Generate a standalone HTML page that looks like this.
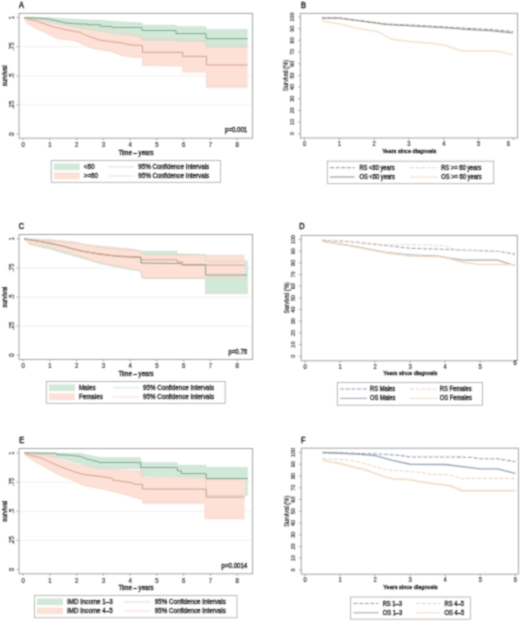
<!DOCTYPE html>
<html><head><meta charset="utf-8"><title>Survival curves</title>
<style>html,body{margin:0;padding:0;background:#fff;}body{width:520px;height:626px;position:relative;overflow:hidden;font-family:"Liberation Sans", sans-serif;}</style>
</head><body>
<svg width="520" height="626" viewBox="0 0 520 626" style="position:absolute;left:0;top:0;font-family:'Liberation Sans', sans-serif">
<style>text{stroke:#222;stroke-width:0.3px;} text.t{stroke-width:0.5px;} text.k{stroke-width:0.14px;}</style>
<defs><filter id="sb" x="0" y="0" width="520" height="626" filterUnits="userSpaceOnUse"><feConvolveMatrix order="3" kernelMatrix="1 2 1 2 6 2 1 2 1" divisor="18" edgeMode="duplicate" preserveAlpha="false"/></filter></defs>
<rect x="0" y="0" width="520" height="626" fill="#fff"/>
<g filter="url(#sb)">
<line x1="19.00" y1="104.90" x2="252.60" y2="104.90" stroke="#ececec" stroke-width="0.8"/>
<line x1="19.00" y1="75.80" x2="252.60" y2="75.80" stroke="#ececec" stroke-width="0.8"/>
<line x1="19.00" y1="46.70" x2="252.60" y2="46.70" stroke="#ececec" stroke-width="0.8"/>
<polygon points="24.00,17.60 50.00,20.00 80.00,24.70 100.00,28.00 120.00,31.00 135.00,34.50 142.50,36.00 142.50,39.00 182.70,39.00 182.70,41.20 206.50,41.20 206.50,45.50 247.60,45.50 247.60,87.20 206.50,87.20 206.50,72.00 182.70,72.00 182.70,66.00 142.50,65.50 142.50,57.50 130.00,57.00 120.00,55.00 110.00,51.20 95.00,49.00 85.00,45.50 75.00,40.80 57.00,38.50 43.00,31.60 35.00,28.00 27.00,23.50 24.00,17.60" fill="#fde1d6" />
<polygon points="24.00,17.60 50.00,17.80 75.00,19.50 100.00,20.50 130.00,22.50 142.00,23.00 142.00,25.30 176.00,25.30 176.00,26.80 206.00,26.80 206.00,29.60 247.60,29.60 247.60,47.00 206.00,47.00 206.00,41.00 176.00,41.00 176.00,40.30 142.00,40.30 142.00,37.00 135.00,35.60 115.00,33.50 100.00,31.00 90.00,29.50 75.00,27.00 60.00,24.00 40.00,20.00 24.00,17.60" fill="#d2e9da" />
<polyline points="24.00,17.60 50.00,20.00 80.00,24.70 100.00,28.00 120.00,31.00 135.00,34.50 142.50,36.00 142.50,39.00 182.70,39.00 182.70,41.20 206.50,41.20 206.50,45.50 247.60,45.50" fill="none" stroke="#f2cbbd" stroke-width="0.6" stroke-linejoin="miter" />
<polyline points="24.00,17.60 27.00,23.50 35.00,28.00 43.00,31.60 57.00,38.50 75.00,40.80 85.00,45.50 95.00,49.00 110.00,51.20 120.00,55.00 130.00,57.00 142.50,57.50 142.50,65.50 182.70,66.00 182.70,72.00 206.50,72.00 206.50,87.20 247.60,87.20" fill="none" stroke="#f2cbbd" stroke-width="0.6" stroke-linejoin="miter" />
<polyline points="24.00,17.60 50.00,17.80 75.00,19.50 100.00,20.50 130.00,22.50 142.00,23.00 142.00,25.30 176.00,25.30 176.00,26.80 206.00,26.80 206.00,29.60 247.60,29.60" fill="none" stroke="#bcd8c6" stroke-width="0.6" stroke-linejoin="miter" />
<polyline points="24.00,17.60 40.00,20.00 60.00,24.00 75.00,27.00 90.00,29.50 100.00,31.00 115.00,33.50 135.00,35.60 142.00,37.00 142.00,40.30 176.00,40.30 176.00,41.00 206.00,41.00 206.00,47.00 247.60,47.00" fill="none" stroke="#bcd8c6" stroke-width="0.6" stroke-linejoin="miter" />
<polyline points="24.00,17.60 33.00,17.90 42.00,18.40 49.00,19.10 58.00,21.00 66.00,23.00 80.00,24.00 87.70,24.00 87.70,24.70 100.40,24.70 100.40,26.40 112.00,26.40 112.00,27.50 142.00,27.50 142.00,30.50 176.00,30.50 176.00,33.60 206.00,33.60 206.00,38.70 247.60,38.70" fill="none" stroke="#739e82" stroke-width="1.0" stroke-linejoin="miter" />
<polyline points="24.00,17.60 30.00,19.50 37.30,21.20 45.00,24.00 54.60,27.00 65.00,29.50 75.00,31.60 80.00,32.20 85.00,35.00 95.00,38.50 100.00,40.30 110.00,41.40 120.00,42.60 130.00,44.90 142.50,45.50 142.50,52.30 182.70,52.30 182.70,56.40 206.50,56.40 206.50,65.00 247.60,65.00" fill="none" stroke="#d29c89" stroke-width="1.0" stroke-linejoin="miter" />
<rect x="19.00" y="13.30" width="233.60" height="124.90" fill="none" stroke="#9a9a9a" stroke-width="0.9"/>
<line x1="16.60" y1="134.00" x2="19.00" y2="134.00" stroke="#9a9a9a" stroke-width="0.8"/>
<text transform="translate(13.70 134.00) rotate(-90) scale(1 1.09)" font-size="6" text-anchor="middle" font-weight="normal" fill="#2a2a2a" class="k">0</text>
<line x1="16.60" y1="104.90" x2="19.00" y2="104.90" stroke="#9a9a9a" stroke-width="0.8"/>
<text transform="translate(13.70 104.90) rotate(-90) scale(1 1.09)" font-size="6" text-anchor="middle" font-weight="normal" fill="#2a2a2a" class="k">.25</text>
<line x1="16.60" y1="75.80" x2="19.00" y2="75.80" stroke="#9a9a9a" stroke-width="0.8"/>
<text transform="translate(13.70 75.80) rotate(-90) scale(1 1.09)" font-size="6" text-anchor="middle" font-weight="normal" fill="#2a2a2a" class="k">.5</text>
<line x1="16.60" y1="46.70" x2="19.00" y2="46.70" stroke="#9a9a9a" stroke-width="0.8"/>
<text transform="translate(13.70 46.70) rotate(-90) scale(1 1.09)" font-size="6" text-anchor="middle" font-weight="normal" fill="#2a2a2a" class="k">.75</text>
<line x1="16.60" y1="17.60" x2="19.00" y2="17.60" stroke="#9a9a9a" stroke-width="0.8"/>
<text transform="translate(13.70 17.60) rotate(-90) scale(1 1.09)" font-size="6" text-anchor="middle" font-weight="normal" fill="#2a2a2a" class="k">1</text>
<line x1="23.10" y1="138.20" x2="23.10" y2="140.40" stroke="#9a9a9a" stroke-width="0.8"/>
<text transform="translate(23.10 147.20) scale(1 1.09)" font-size="6" text-anchor="middle" font-weight="normal" fill="#2a2a2a" class="k">0</text>
<line x1="49.85" y1="138.20" x2="49.85" y2="140.40" stroke="#9a9a9a" stroke-width="0.8"/>
<text transform="translate(49.85 147.20) scale(1 1.09)" font-size="6" text-anchor="middle" font-weight="normal" fill="#2a2a2a" class="k">1</text>
<line x1="76.60" y1="138.20" x2="76.60" y2="140.40" stroke="#9a9a9a" stroke-width="0.8"/>
<text transform="translate(76.60 147.20) scale(1 1.09)" font-size="6" text-anchor="middle" font-weight="normal" fill="#2a2a2a" class="k">2</text>
<line x1="103.35" y1="138.20" x2="103.35" y2="140.40" stroke="#9a9a9a" stroke-width="0.8"/>
<text transform="translate(103.35 147.20) scale(1 1.09)" font-size="6" text-anchor="middle" font-weight="normal" fill="#2a2a2a" class="k">3</text>
<line x1="130.10" y1="138.20" x2="130.10" y2="140.40" stroke="#9a9a9a" stroke-width="0.8"/>
<text transform="translate(130.10 147.20) scale(1 1.09)" font-size="6" text-anchor="middle" font-weight="normal" fill="#2a2a2a" class="k">4</text>
<line x1="156.85" y1="138.20" x2="156.85" y2="140.40" stroke="#9a9a9a" stroke-width="0.8"/>
<text transform="translate(156.85 147.20) scale(1 1.09)" font-size="6" text-anchor="middle" font-weight="normal" fill="#2a2a2a" class="k">5</text>
<line x1="183.60" y1="138.20" x2="183.60" y2="140.40" stroke="#9a9a9a" stroke-width="0.8"/>
<text transform="translate(183.60 147.20) scale(1 1.09)" font-size="6" text-anchor="middle" font-weight="normal" fill="#2a2a2a" class="k">6</text>
<line x1="210.35" y1="138.20" x2="210.35" y2="140.40" stroke="#9a9a9a" stroke-width="0.8"/>
<text transform="translate(210.35 147.20) scale(1 1.09)" font-size="6" text-anchor="middle" font-weight="normal" fill="#2a2a2a" class="k">7</text>
<line x1="237.10" y1="138.20" x2="237.10" y2="140.40" stroke="#9a9a9a" stroke-width="0.8"/>
<text transform="translate(237.10 147.20) scale(1 1.09)" font-size="6" text-anchor="middle" font-weight="normal" fill="#2a2a2a" class="k">8</text>
<text transform="translate(136.00 154.70) scale(1 1.09)" font-size="6.1" text-anchor="middle" font-weight="normal" fill="#2a2a2a">Time – years</text>
<text transform="translate(6.60 75.80) rotate(-90) scale(1 1.09)" font-size="6.2" text-anchor="middle" font-weight="normal" fill="#2a2a2a">survival</text>
<text transform="translate(247.20 132.40) scale(1 1.09)" font-size="6.1" text-anchor="end" font-weight="normal" fill="#2a2a2a">p=0.001</text>
<rect x="51.20" y="160.60" width="169.20" height="21.70" fill="none" stroke="#a8a8a8" stroke-width="0.8"/>
<rect x="53.80" y="163.40" width="26" height="6.8" fill="#d2e9da"/>
<rect x="53.80" y="172.50" width="26" height="6.8" fill="#fde1d6"/>
<text transform="translate(83.80 169.10) scale(1 1.09)" font-size="6.25" text-anchor="start" font-weight="normal" fill="#2a2a2a">&lt;60</text>
<text transform="translate(83.80 178.20) scale(1 1.09)" font-size="6.25" text-anchor="start" font-weight="normal" fill="#2a2a2a">&gt;=60</text>
<line x1="108.00" y1="166.90" x2="134.00" y2="166.90" stroke="#c9ddd0" stroke-width="0.8"/>
<line x1="108.00" y1="176.00" x2="134.00" y2="176.00" stroke="#f3d6cc" stroke-width="0.8"/>
<text transform="translate(209.20 169.10) scale(1 1.09)" font-size="6.25" text-anchor="end" font-weight="normal" fill="#2a2a2a">95% Confidence Intervals</text>
<text transform="translate(209.20 178.20) scale(1 1.09)" font-size="6.25" text-anchor="end" font-weight="normal" fill="#2a2a2a">95% Confidence Intervals</text>
<line x1="19.00" y1="326.10" x2="252.60" y2="326.10" stroke="#ececec" stroke-width="0.8"/>
<line x1="19.00" y1="297.00" x2="252.60" y2="297.00" stroke="#ececec" stroke-width="0.8"/>
<line x1="19.00" y1="267.90" x2="252.60" y2="267.90" stroke="#ececec" stroke-width="0.8"/>
<polygon points="24.00,238.80 60.00,241.50 80.00,244.00 100.00,247.50 120.00,249.50 141.00,250.80 143.00,251.30 177.00,251.30 177.00,254.00 205.60,254.50 205.60,261.00 247.90,261.00 247.90,293.50 205.60,293.50 205.60,278.50 143.00,278.50 141.00,271.00 130.00,269.50 115.00,266.50 100.00,263.50 90.00,260.50 80.00,257.50 60.00,252.00 50.00,249.00 30.00,244.50 24.00,238.80" fill="#d2e9da" />
<polygon points="24.00,238.80 50.00,239.50 60.00,240.50 75.00,242.00 85.00,244.50 100.00,246.00 115.00,247.50 130.00,248.75 140.00,250.50 143.00,255.00 177.00,255.00 177.00,255.20 244.70,255.20 244.70,277.00 205.60,277.00 205.60,278.00 142.00,278.00 140.00,270.00 130.00,268.50 115.00,265.50 100.00,262.50 90.00,259.50 80.00,256.00 60.00,250.50 50.00,247.50 30.00,243.50 24.00,238.80" fill="#fde1d6" />
<polyline points="24.00,238.80 60.00,241.50 80.00,244.00 100.00,247.50 120.00,249.50 141.00,250.80 143.00,251.30 177.00,251.30 177.00,254.00 205.60,254.50 205.60,261.00 247.90,261.00" fill="none" stroke="#bcd8c6" stroke-width="0.6" stroke-linejoin="miter" />
<polyline points="24.00,238.80 30.00,244.50 50.00,249.00 60.00,252.00 80.00,257.50 90.00,260.50 100.00,263.50 115.00,266.50 130.00,269.50 141.00,271.00 143.00,278.50 205.60,278.50 205.60,293.50 247.90,293.50" fill="none" stroke="#bcd8c6" stroke-width="0.6" stroke-linejoin="miter" />
<polyline points="24.00,238.80 50.00,239.50 60.00,240.50 75.00,242.00 85.00,244.50 100.00,246.00 115.00,247.50 130.00,248.75 140.00,250.50 143.00,255.00 177.00,255.00 177.00,255.20 244.70,255.20" fill="none" stroke="#f2cbbd" stroke-width="0.6" stroke-linejoin="miter" />
<polyline points="24.00,238.80 30.00,243.50 50.00,247.50 60.00,250.50 80.00,256.00 90.00,259.50 100.00,262.50 115.00,265.50 130.00,268.50 140.00,270.00 142.00,278.00 205.60,278.00 205.60,277.00 244.70,277.00" fill="none" stroke="#f2cbbd" stroke-width="0.6" stroke-linejoin="miter" />
<polyline points="24.00,238.80 40.00,241.50 60.00,245.50 80.00,250.80 100.00,254.30 120.00,256.50 141.00,257.50 141.00,263.00 180.00,263.50 183.00,264.50 205.60,264.50 205.60,275.00 247.00,275.00" fill="none" stroke="#739e82" stroke-width="1.0" stroke-linejoin="miter" />
<polyline points="24.00,238.80 50.00,243.00 60.00,245.30 80.00,250.50 90.00,252.50 100.00,253.80 115.00,255.90 130.00,256.50 141.00,257.00 141.00,259.80 177.00,259.80 177.00,261.90 182.30,261.90 182.30,265.10 244.70,265.10" fill="none" stroke="#d29c89" stroke-width="1.0" stroke-linejoin="miter" />
<rect x="19.00" y="234.50" width="233.60" height="124.90" fill="none" stroke="#9a9a9a" stroke-width="0.9"/>
<line x1="16.60" y1="355.20" x2="19.00" y2="355.20" stroke="#9a9a9a" stroke-width="0.8"/>
<text transform="translate(13.70 355.20) rotate(-90) scale(1 1.09)" font-size="6" text-anchor="middle" font-weight="normal" fill="#2a2a2a" class="k">0</text>
<line x1="16.60" y1="326.10" x2="19.00" y2="326.10" stroke="#9a9a9a" stroke-width="0.8"/>
<text transform="translate(13.70 326.10) rotate(-90) scale(1 1.09)" font-size="6" text-anchor="middle" font-weight="normal" fill="#2a2a2a" class="k">.25</text>
<line x1="16.60" y1="297.00" x2="19.00" y2="297.00" stroke="#9a9a9a" stroke-width="0.8"/>
<text transform="translate(13.70 297.00) rotate(-90) scale(1 1.09)" font-size="6" text-anchor="middle" font-weight="normal" fill="#2a2a2a" class="k">.5</text>
<line x1="16.60" y1="267.90" x2="19.00" y2="267.90" stroke="#9a9a9a" stroke-width="0.8"/>
<text transform="translate(13.70 267.90) rotate(-90) scale(1 1.09)" font-size="6" text-anchor="middle" font-weight="normal" fill="#2a2a2a" class="k">.75</text>
<line x1="16.60" y1="238.80" x2="19.00" y2="238.80" stroke="#9a9a9a" stroke-width="0.8"/>
<text transform="translate(13.70 238.80) rotate(-90) scale(1 1.09)" font-size="6" text-anchor="middle" font-weight="normal" fill="#2a2a2a" class="k">1</text>
<line x1="23.10" y1="359.40" x2="23.10" y2="361.60" stroke="#9a9a9a" stroke-width="0.8"/>
<text transform="translate(23.10 368.40) scale(1 1.09)" font-size="6" text-anchor="middle" font-weight="normal" fill="#2a2a2a" class="k">0</text>
<line x1="49.85" y1="359.40" x2="49.85" y2="361.60" stroke="#9a9a9a" stroke-width="0.8"/>
<text transform="translate(49.85 368.40) scale(1 1.09)" font-size="6" text-anchor="middle" font-weight="normal" fill="#2a2a2a" class="k">1</text>
<line x1="76.60" y1="359.40" x2="76.60" y2="361.60" stroke="#9a9a9a" stroke-width="0.8"/>
<text transform="translate(76.60 368.40) scale(1 1.09)" font-size="6" text-anchor="middle" font-weight="normal" fill="#2a2a2a" class="k">2</text>
<line x1="103.35" y1="359.40" x2="103.35" y2="361.60" stroke="#9a9a9a" stroke-width="0.8"/>
<text transform="translate(103.35 368.40) scale(1 1.09)" font-size="6" text-anchor="middle" font-weight="normal" fill="#2a2a2a" class="k">3</text>
<line x1="130.10" y1="359.40" x2="130.10" y2="361.60" stroke="#9a9a9a" stroke-width="0.8"/>
<text transform="translate(130.10 368.40) scale(1 1.09)" font-size="6" text-anchor="middle" font-weight="normal" fill="#2a2a2a" class="k">4</text>
<line x1="156.85" y1="359.40" x2="156.85" y2="361.60" stroke="#9a9a9a" stroke-width="0.8"/>
<text transform="translate(156.85 368.40) scale(1 1.09)" font-size="6" text-anchor="middle" font-weight="normal" fill="#2a2a2a" class="k">5</text>
<line x1="183.60" y1="359.40" x2="183.60" y2="361.60" stroke="#9a9a9a" stroke-width="0.8"/>
<text transform="translate(183.60 368.40) scale(1 1.09)" font-size="6" text-anchor="middle" font-weight="normal" fill="#2a2a2a" class="k">6</text>
<line x1="210.35" y1="359.40" x2="210.35" y2="361.60" stroke="#9a9a9a" stroke-width="0.8"/>
<text transform="translate(210.35 368.40) scale(1 1.09)" font-size="6" text-anchor="middle" font-weight="normal" fill="#2a2a2a" class="k">7</text>
<line x1="237.10" y1="359.40" x2="237.10" y2="361.60" stroke="#9a9a9a" stroke-width="0.8"/>
<text transform="translate(237.10 368.40) scale(1 1.09)" font-size="6" text-anchor="middle" font-weight="normal" fill="#2a2a2a" class="k">8</text>
<text transform="translate(136.00 375.90) scale(1 1.09)" font-size="6.1" text-anchor="middle" font-weight="normal" fill="#2a2a2a">Time – years</text>
<text transform="translate(6.60 297.00) rotate(-90) scale(1 1.09)" font-size="6.2" text-anchor="middle" font-weight="normal" fill="#2a2a2a">survival</text>
<text transform="translate(247.20 353.60) scale(1 1.09)" font-size="6.1" text-anchor="end" font-weight="normal" fill="#2a2a2a">p=0.76</text>
<rect x="46.30" y="381.50" width="178.90" height="21.80" fill="none" stroke="#a8a8a8" stroke-width="0.8"/>
<rect x="48.90" y="384.30" width="26" height="6.8" fill="#d2e9da"/>
<rect x="48.90" y="393.40" width="26" height="6.8" fill="#fde1d6"/>
<text transform="translate(78.90 390.00) scale(1 1.09)" font-size="6.25" text-anchor="start" font-weight="normal" fill="#2a2a2a">Males</text>
<text transform="translate(78.90 399.10) scale(1 1.09)" font-size="6.25" text-anchor="start" font-weight="normal" fill="#2a2a2a">Females</text>
<line x1="112.80" y1="387.80" x2="138.80" y2="387.80" stroke="#c9ddd0" stroke-width="0.8"/>
<line x1="112.80" y1="396.90" x2="138.80" y2="396.90" stroke="#f3d6cc" stroke-width="0.8"/>
<text transform="translate(214.00 390.00) scale(1 1.09)" font-size="6.25" text-anchor="end" font-weight="normal" fill="#2a2a2a">95% Confidence Intervals</text>
<text transform="translate(214.00 399.10) scale(1 1.09)" font-size="6.25" text-anchor="end" font-weight="normal" fill="#2a2a2a">95% Confidence Intervals</text>
<line x1="19.00" y1="540.38" x2="252.60" y2="540.38" stroke="#ececec" stroke-width="0.8"/>
<line x1="19.00" y1="511.25" x2="252.60" y2="511.25" stroke="#ececec" stroke-width="0.8"/>
<line x1="19.00" y1="482.12" x2="252.60" y2="482.12" stroke="#ececec" stroke-width="0.8"/>
<polygon points="24.40,452.90 80.00,453.40 100.00,457.80 140.00,457.80 142.00,462.80 177.30,462.80 177.30,465.50 206.20,465.50 206.20,467.60 247.90,467.60 247.90,495.20 206.20,495.20 206.20,477.60 140.70,476.00 140.70,468.50 100.00,468.50 90.00,466.50 80.00,463.50 65.00,459.50 50.00,456.00 24.40,452.90" fill="#d2e9da" />
<polygon points="24.40,452.90 50.00,455.00 60.00,460.00 80.00,465.20 100.00,468.70 130.00,470.40 142.60,470.80 142.60,477.60 206.20,478.30 206.20,479.80 244.70,479.80 244.70,518.80 205.00,518.80 205.00,503.20 142.60,503.20 142.60,499.00 140.00,499.00 128.00,495.50 115.00,492.00 100.00,488.50 85.00,486.00 70.00,479.00 60.00,475.60 50.00,470.00 30.00,458.80 25.00,455.00 24.40,452.90" fill="#fde1d6" />
<polyline points="24.40,452.90 80.00,453.40 100.00,457.80 140.00,457.80 142.00,462.80 177.30,462.80 177.30,465.50 206.20,465.50 206.20,467.60 247.90,467.60" fill="none" stroke="#bcd8c6" stroke-width="0.6" stroke-linejoin="miter" />
<polyline points="24.40,452.90 50.00,456.00 65.00,459.50 80.00,463.50 90.00,466.50 100.00,468.50 140.70,468.50 140.70,476.00 206.20,477.60 206.20,495.20 247.90,495.20" fill="none" stroke="#bcd8c6" stroke-width="0.6" stroke-linejoin="miter" />
<polyline points="24.40,452.90 50.00,455.00 60.00,460.00 80.00,465.20 100.00,468.70 130.00,470.40 142.60,470.80 142.60,477.60 206.20,478.30 206.20,479.80 244.70,479.80" fill="none" stroke="#f2cbbd" stroke-width="0.6" stroke-linejoin="miter" />
<polyline points="24.40,452.90 25.00,455.00 30.00,458.80 50.00,470.00 60.00,475.60 70.00,479.00 85.00,486.00 100.00,488.50 115.00,492.00 128.00,495.50 140.00,499.00 142.60,499.00 142.60,503.20 205.00,503.20 205.00,518.80 244.70,518.80" fill="none" stroke="#f2cbbd" stroke-width="0.6" stroke-linejoin="miter" />
<polyline points="24.40,452.90 56.30,453.30 56.30,454.60 70.00,455.30 80.00,456.30 87.00,459.00 95.00,461.00 100.00,462.50 140.70,462.50 140.70,467.50 177.30,467.50 177.30,470.90 181.30,470.90 181.30,473.60 206.20,473.60 206.20,478.50 247.90,478.50" fill="none" stroke="#739e82" stroke-width="1.0" stroke-linejoin="miter" />
<polyline points="24.40,452.90 30.00,455.40 40.00,457.50 60.00,466.50 75.00,472.10 85.00,474.70 100.00,476.40 112.30,478.20 112.30,479.90 130.00,482.50 135.00,484.20 142.60,484.40 142.60,489.00 206.20,489.10 206.20,497.10 244.70,497.10" fill="none" stroke="#d29c89" stroke-width="1.0" stroke-linejoin="miter" />
<rect x="19.00" y="448.60" width="233.60" height="125.20" fill="none" stroke="#9a9a9a" stroke-width="0.9"/>
<line x1="16.60" y1="569.50" x2="19.00" y2="569.50" stroke="#9a9a9a" stroke-width="0.8"/>
<text transform="translate(13.70 569.50) rotate(-90) scale(1 1.09)" font-size="6" text-anchor="middle" font-weight="normal" fill="#2a2a2a" class="k">0</text>
<line x1="16.60" y1="540.38" x2="19.00" y2="540.38" stroke="#9a9a9a" stroke-width="0.8"/>
<text transform="translate(13.70 540.38) rotate(-90) scale(1 1.09)" font-size="6" text-anchor="middle" font-weight="normal" fill="#2a2a2a" class="k">.25</text>
<line x1="16.60" y1="511.25" x2="19.00" y2="511.25" stroke="#9a9a9a" stroke-width="0.8"/>
<text transform="translate(13.70 511.25) rotate(-90) scale(1 1.09)" font-size="6" text-anchor="middle" font-weight="normal" fill="#2a2a2a" class="k">.5</text>
<line x1="16.60" y1="482.12" x2="19.00" y2="482.12" stroke="#9a9a9a" stroke-width="0.8"/>
<text transform="translate(13.70 482.12) rotate(-90) scale(1 1.09)" font-size="6" text-anchor="middle" font-weight="normal" fill="#2a2a2a" class="k">.75</text>
<line x1="16.60" y1="453.00" x2="19.00" y2="453.00" stroke="#9a9a9a" stroke-width="0.8"/>
<text transform="translate(13.70 453.00) rotate(-90) scale(1 1.09)" font-size="6" text-anchor="middle" font-weight="normal" fill="#2a2a2a" class="k">1</text>
<line x1="23.10" y1="573.80" x2="23.10" y2="576.00" stroke="#9a9a9a" stroke-width="0.8"/>
<text transform="translate(23.10 582.80) scale(1 1.09)" font-size="6" text-anchor="middle" font-weight="normal" fill="#2a2a2a" class="k">0</text>
<line x1="49.85" y1="573.80" x2="49.85" y2="576.00" stroke="#9a9a9a" stroke-width="0.8"/>
<text transform="translate(49.85 582.80) scale(1 1.09)" font-size="6" text-anchor="middle" font-weight="normal" fill="#2a2a2a" class="k">1</text>
<line x1="76.60" y1="573.80" x2="76.60" y2="576.00" stroke="#9a9a9a" stroke-width="0.8"/>
<text transform="translate(76.60 582.80) scale(1 1.09)" font-size="6" text-anchor="middle" font-weight="normal" fill="#2a2a2a" class="k">2</text>
<line x1="103.35" y1="573.80" x2="103.35" y2="576.00" stroke="#9a9a9a" stroke-width="0.8"/>
<text transform="translate(103.35 582.80) scale(1 1.09)" font-size="6" text-anchor="middle" font-weight="normal" fill="#2a2a2a" class="k">3</text>
<line x1="130.10" y1="573.80" x2="130.10" y2="576.00" stroke="#9a9a9a" stroke-width="0.8"/>
<text transform="translate(130.10 582.80) scale(1 1.09)" font-size="6" text-anchor="middle" font-weight="normal" fill="#2a2a2a" class="k">4</text>
<line x1="156.85" y1="573.80" x2="156.85" y2="576.00" stroke="#9a9a9a" stroke-width="0.8"/>
<text transform="translate(156.85 582.80) scale(1 1.09)" font-size="6" text-anchor="middle" font-weight="normal" fill="#2a2a2a" class="k">5</text>
<line x1="183.60" y1="573.80" x2="183.60" y2="576.00" stroke="#9a9a9a" stroke-width="0.8"/>
<text transform="translate(183.60 582.80) scale(1 1.09)" font-size="6" text-anchor="middle" font-weight="normal" fill="#2a2a2a" class="k">6</text>
<line x1="210.35" y1="573.80" x2="210.35" y2="576.00" stroke="#9a9a9a" stroke-width="0.8"/>
<text transform="translate(210.35 582.80) scale(1 1.09)" font-size="6" text-anchor="middle" font-weight="normal" fill="#2a2a2a" class="k">7</text>
<line x1="237.10" y1="573.80" x2="237.10" y2="576.00" stroke="#9a9a9a" stroke-width="0.8"/>
<text transform="translate(237.10 582.80) scale(1 1.09)" font-size="6" text-anchor="middle" font-weight="normal" fill="#2a2a2a" class="k">8</text>
<text transform="translate(136.00 590.30) scale(1 1.09)" font-size="6.1" text-anchor="middle" font-weight="normal" fill="#2a2a2a">Time – years</text>
<text transform="translate(6.60 511.25) rotate(-90) scale(1 1.09)" font-size="6.2" text-anchor="middle" font-weight="normal" fill="#2a2a2a">survival</text>
<text transform="translate(247.20 567.90) scale(1 1.09)" font-size="6.1" text-anchor="end" font-weight="normal" fill="#2a2a2a">p=0.0014</text>
<rect x="34.40" y="595.60" width="202.60" height="22.20" fill="none" stroke="#a8a8a8" stroke-width="0.8"/>
<rect x="37.00" y="598.40" width="26" height="6.8" fill="#d2e9da"/>
<rect x="37.00" y="607.50" width="26" height="6.8" fill="#fde1d6"/>
<text transform="translate(67.00 604.10) scale(1 1.09)" font-size="6.25" text-anchor="start" font-weight="normal" fill="#2a2a2a">IMD Income 1–3</text>
<text transform="translate(67.00 613.20) scale(1 1.09)" font-size="6.25" text-anchor="start" font-weight="normal" fill="#2a2a2a">IMD Income 4–5</text>
<line x1="124.60" y1="601.90" x2="150.60" y2="601.90" stroke="#c9ddd0" stroke-width="0.8"/>
<line x1="124.60" y1="611.00" x2="150.60" y2="611.00" stroke="#f3d6cc" stroke-width="0.8"/>
<text transform="translate(225.80 604.10) scale(1 1.09)" font-size="6.25" text-anchor="end" font-weight="normal" fill="#2a2a2a">95% Confidence Intervals</text>
<text transform="translate(225.80 613.20) scale(1 1.09)" font-size="6.25" text-anchor="end" font-weight="normal" fill="#2a2a2a">95% Confidence Intervals</text>
<rect x="300.40" y="13.30" width="217.20" height="124.70" fill="none" stroke="#9a9a9a" stroke-width="0.9"/>
<line x1="298.00" y1="133.75" x2="300.40" y2="133.75" stroke="#9a9a9a" stroke-width="0.8"/>
<text transform="translate(294.40 133.75) rotate(-90) scale(1 1.0)" font-size="5.5" text-anchor="middle" font-weight="normal" fill="#2a2a2a" class="k">0</text>
<line x1="298.00" y1="122.08" x2="300.40" y2="122.08" stroke="#9a9a9a" stroke-width="0.8"/>
<text transform="translate(294.40 122.08) rotate(-90) scale(1 1.0)" font-size="5.5" text-anchor="middle" font-weight="normal" fill="#2a2a2a" class="k">10</text>
<line x1="298.00" y1="110.40" x2="300.40" y2="110.40" stroke="#9a9a9a" stroke-width="0.8"/>
<text transform="translate(294.40 110.40) rotate(-90) scale(1 1.0)" font-size="5.5" text-anchor="middle" font-weight="normal" fill="#2a2a2a" class="k">20</text>
<line x1="298.00" y1="98.72" x2="300.40" y2="98.72" stroke="#9a9a9a" stroke-width="0.8"/>
<text transform="translate(294.40 98.72) rotate(-90) scale(1 1.0)" font-size="5.5" text-anchor="middle" font-weight="normal" fill="#2a2a2a" class="k">30</text>
<line x1="298.00" y1="87.05" x2="300.40" y2="87.05" stroke="#9a9a9a" stroke-width="0.8"/>
<text transform="translate(294.40 87.05) rotate(-90) scale(1 1.0)" font-size="5.5" text-anchor="middle" font-weight="normal" fill="#2a2a2a" class="k">40</text>
<line x1="298.00" y1="75.38" x2="300.40" y2="75.38" stroke="#9a9a9a" stroke-width="0.8"/>
<text transform="translate(294.40 75.38) rotate(-90) scale(1 1.0)" font-size="5.5" text-anchor="middle" font-weight="normal" fill="#2a2a2a" class="k">50</text>
<line x1="298.00" y1="63.70" x2="300.40" y2="63.70" stroke="#9a9a9a" stroke-width="0.8"/>
<text transform="translate(294.40 63.70) rotate(-90) scale(1 1.0)" font-size="5.5" text-anchor="middle" font-weight="normal" fill="#2a2a2a" class="k">60</text>
<line x1="298.00" y1="52.03" x2="300.40" y2="52.03" stroke="#9a9a9a" stroke-width="0.8"/>
<text transform="translate(294.40 52.03) rotate(-90) scale(1 1.0)" font-size="5.5" text-anchor="middle" font-weight="normal" fill="#2a2a2a" class="k">70</text>
<line x1="298.00" y1="40.35" x2="300.40" y2="40.35" stroke="#9a9a9a" stroke-width="0.8"/>
<text transform="translate(294.40 40.35) rotate(-90) scale(1 1.0)" font-size="5.5" text-anchor="middle" font-weight="normal" fill="#2a2a2a" class="k">80</text>
<line x1="298.00" y1="28.67" x2="300.40" y2="28.67" stroke="#9a9a9a" stroke-width="0.8"/>
<text transform="translate(294.40 28.67) rotate(-90) scale(1 1.0)" font-size="5.5" text-anchor="middle" font-weight="normal" fill="#2a2a2a" class="k">90</text>
<line x1="298.00" y1="17.00" x2="300.40" y2="17.00" stroke="#9a9a9a" stroke-width="0.8"/>
<text transform="translate(294.40 17.00) rotate(-90) scale(1 1.0)" font-size="5.5" text-anchor="middle" font-weight="normal" fill="#2a2a2a" class="k">100</text>
<line x1="304.50" y1="138.00" x2="304.50" y2="140.20" stroke="#9a9a9a" stroke-width="0.8"/>
<text transform="translate(304.50 145.70) scale(1 1.09)" font-size="5.8" text-anchor="middle" font-weight="normal" fill="#2a2a2a" class="k">0</text>
<line x1="339.32" y1="138.00" x2="339.32" y2="140.20" stroke="#9a9a9a" stroke-width="0.8"/>
<text transform="translate(339.32 145.70) scale(1 1.09)" font-size="5.8" text-anchor="middle" font-weight="normal" fill="#2a2a2a" class="k">1</text>
<line x1="374.14" y1="138.00" x2="374.14" y2="140.20" stroke="#9a9a9a" stroke-width="0.8"/>
<text transform="translate(374.14 145.70) scale(1 1.09)" font-size="5.8" text-anchor="middle" font-weight="normal" fill="#2a2a2a" class="k">2</text>
<line x1="408.96" y1="138.00" x2="408.96" y2="140.20" stroke="#9a9a9a" stroke-width="0.8"/>
<text transform="translate(408.96 145.70) scale(1 1.09)" font-size="5.8" text-anchor="middle" font-weight="normal" fill="#2a2a2a" class="k">3</text>
<line x1="443.78" y1="138.00" x2="443.78" y2="140.20" stroke="#9a9a9a" stroke-width="0.8"/>
<text transform="translate(443.78 145.70) scale(1 1.09)" font-size="5.8" text-anchor="middle" font-weight="normal" fill="#2a2a2a" class="k">4</text>
<line x1="478.60" y1="138.00" x2="478.60" y2="140.20" stroke="#9a9a9a" stroke-width="0.8"/>
<text transform="translate(478.60 145.70) scale(1 1.09)" font-size="5.8" text-anchor="middle" font-weight="normal" fill="#2a2a2a" class="k">5</text>
<line x1="513.42" y1="138.00" x2="513.42" y2="140.20" stroke="#9a9a9a" stroke-width="0.8"/>
<text transform="translate(508.42 145.70) scale(1 1.09)" font-size="5.8" text-anchor="middle" font-weight="normal" fill="#2a2a2a" class="k">6</text>
<text transform="translate(409.26 152.50) scale(1 1.09)" font-size="5.65" text-anchor="middle" font-weight="normal" fill="#2a2a2a">Years since diagnosis</text>
<text transform="translate(288.40 75.38) rotate(-90) scale(1 1.09)" font-size="5.8" text-anchor="middle" font-weight="normal" fill="#2a2a2a" class="k">Survival (%)</text>
<rect x="327.30" y="161.20" width="166.40" height="22.50" fill="none" stroke="#a8a8a8" stroke-width="0.8"/>
<polyline points="321.91,18.17 339.32,18.75 356.73,20.50 374.14,22.25 384.93,23.65 415.23,25.17 450.05,26.92 464.67,29.84 490.09,31.01 513.07,33.34" fill="none" stroke="#e6d2c4" stroke-width="0.9" stroke-dasharray="4,1.6" stroke-linejoin="miter" />
<polyline points="321.91,20.85 340.02,24.12 359.86,28.79 377.62,31.59 391.55,39.18 410.00,41.63 429.85,43.04 445.17,45.37 462.23,51.09 497.05,51.09 513.07,54.71" fill="none" stroke="#f4e5d4" stroke-width="1.7" stroke-linejoin="miter" />
<polyline points="321.91,18.05 339.32,18.05 356.73,20.50 374.14,22.84 384.93,24.47 415.23,26.11 450.05,28.09 464.67,29.26 490.09,30.66 513.07,32.99" fill="none" stroke="#8a8a8a" stroke-width="0.9" stroke-linejoin="miter" />
<polyline points="321.91,18.05 339.32,18.05 356.73,20.27 374.14,22.49 384.93,24.12 415.23,25.52 450.05,27.51 490.09,29.49 513.07,31.59" fill="none" stroke="#8e8e8e" stroke-width="1.0" stroke-dasharray="4,1.6" stroke-linejoin="miter" />
<line x1="330.00" y1="167.70" x2="354.60" y2="167.70" stroke="#8e8e8e" stroke-width="1" stroke-dasharray="4,1.6"/>
<text transform="translate(359.40 169.80) scale(1 1.09)" font-size="5.8" text-anchor="start" font-weight="normal" fill="#2a2a2a">RS &lt;60 years</text>
<line x1="330.00" y1="177.00" x2="354.60" y2="177.00" stroke="#8a8a8a" stroke-width="1"/>
<text transform="translate(359.40 179.10) scale(1 1.09)" font-size="5.8" text-anchor="start" font-weight="normal" fill="#2a2a2a">OS &lt;60 years</text>
<line x1="410.00" y1="167.70" x2="438.30" y2="167.70" stroke="#e6d2c4" stroke-width="1" stroke-dasharray="4,1.6"/>
<text transform="translate(441.20 169.80) scale(1 1.09)" font-size="5.8" text-anchor="start" font-weight="normal" fill="#2a2a2a">RS &gt;= 60 years</text>
<line x1="410.00" y1="177.00" x2="438.30" y2="177.00" stroke="#f1dcc5" stroke-width="1"/>
<text transform="translate(441.20 179.10) scale(1 1.09)" font-size="5.8" text-anchor="start" font-weight="normal" fill="#2a2a2a">OS &gt;= 60 years</text>
<rect x="301.20" y="235.40" width="216.10" height="125.40" fill="none" stroke="#9a9a9a" stroke-width="0.9"/>
<line x1="298.80" y1="356.25" x2="301.20" y2="356.25" stroke="#9a9a9a" stroke-width="0.8"/>
<text transform="translate(295.20 356.25) rotate(-90) scale(1 1.0)" font-size="5.5" text-anchor="middle" font-weight="normal" fill="#2a2a2a" class="k">0</text>
<line x1="298.80" y1="344.57" x2="301.20" y2="344.57" stroke="#9a9a9a" stroke-width="0.8"/>
<text transform="translate(295.20 344.57) rotate(-90) scale(1 1.0)" font-size="5.5" text-anchor="middle" font-weight="normal" fill="#2a2a2a" class="k">10</text>
<line x1="298.80" y1="332.90" x2="301.20" y2="332.90" stroke="#9a9a9a" stroke-width="0.8"/>
<text transform="translate(295.20 332.90) rotate(-90) scale(1 1.0)" font-size="5.5" text-anchor="middle" font-weight="normal" fill="#2a2a2a" class="k">20</text>
<line x1="298.80" y1="321.23" x2="301.20" y2="321.23" stroke="#9a9a9a" stroke-width="0.8"/>
<text transform="translate(295.20 321.23) rotate(-90) scale(1 1.0)" font-size="5.5" text-anchor="middle" font-weight="normal" fill="#2a2a2a" class="k">30</text>
<line x1="298.80" y1="309.55" x2="301.20" y2="309.55" stroke="#9a9a9a" stroke-width="0.8"/>
<text transform="translate(295.20 309.55) rotate(-90) scale(1 1.0)" font-size="5.5" text-anchor="middle" font-weight="normal" fill="#2a2a2a" class="k">40</text>
<line x1="298.80" y1="297.88" x2="301.20" y2="297.88" stroke="#9a9a9a" stroke-width="0.8"/>
<text transform="translate(295.20 297.88) rotate(-90) scale(1 1.0)" font-size="5.5" text-anchor="middle" font-weight="normal" fill="#2a2a2a" class="k">50</text>
<line x1="298.80" y1="286.20" x2="301.20" y2="286.20" stroke="#9a9a9a" stroke-width="0.8"/>
<text transform="translate(295.20 286.20) rotate(-90) scale(1 1.0)" font-size="5.5" text-anchor="middle" font-weight="normal" fill="#2a2a2a" class="k">60</text>
<line x1="298.80" y1="274.52" x2="301.20" y2="274.52" stroke="#9a9a9a" stroke-width="0.8"/>
<text transform="translate(295.20 274.52) rotate(-90) scale(1 1.0)" font-size="5.5" text-anchor="middle" font-weight="normal" fill="#2a2a2a" class="k">70</text>
<line x1="298.80" y1="262.85" x2="301.20" y2="262.85" stroke="#9a9a9a" stroke-width="0.8"/>
<text transform="translate(295.20 262.85) rotate(-90) scale(1 1.0)" font-size="5.5" text-anchor="middle" font-weight="normal" fill="#2a2a2a" class="k">80</text>
<line x1="298.80" y1="251.18" x2="301.20" y2="251.18" stroke="#9a9a9a" stroke-width="0.8"/>
<text transform="translate(295.20 251.18) rotate(-90) scale(1 1.0)" font-size="5.5" text-anchor="middle" font-weight="normal" fill="#2a2a2a" class="k">90</text>
<line x1="298.80" y1="239.50" x2="301.20" y2="239.50" stroke="#9a9a9a" stroke-width="0.8"/>
<text transform="translate(295.20 239.50) rotate(-90) scale(1 1.0)" font-size="5.5" text-anchor="middle" font-weight="normal" fill="#2a2a2a" class="k">100</text>
<line x1="305.00" y1="360.80" x2="305.00" y2="363.00" stroke="#9a9a9a" stroke-width="0.8"/>
<text transform="translate(305.00 368.90) scale(1 1.09)" font-size="5.8" text-anchor="middle" font-weight="normal" fill="#2a2a2a" class="k">0</text>
<line x1="340.00" y1="360.80" x2="340.00" y2="363.00" stroke="#9a9a9a" stroke-width="0.8"/>
<text transform="translate(340.00 368.90) scale(1 1.09)" font-size="5.8" text-anchor="middle" font-weight="normal" fill="#2a2a2a" class="k">1</text>
<line x1="375.00" y1="360.80" x2="375.00" y2="363.00" stroke="#9a9a9a" stroke-width="0.8"/>
<text transform="translate(375.00 368.90) scale(1 1.09)" font-size="5.8" text-anchor="middle" font-weight="normal" fill="#2a2a2a" class="k">2</text>
<line x1="410.00" y1="360.80" x2="410.00" y2="363.00" stroke="#9a9a9a" stroke-width="0.8"/>
<text transform="translate(410.00 368.90) scale(1 1.09)" font-size="5.8" text-anchor="middle" font-weight="normal" fill="#2a2a2a" class="k">3</text>
<line x1="445.00" y1="360.80" x2="445.00" y2="363.00" stroke="#9a9a9a" stroke-width="0.8"/>
<text transform="translate(445.00 368.90) scale(1 1.09)" font-size="5.8" text-anchor="middle" font-weight="normal" fill="#2a2a2a" class="k">4</text>
<line x1="480.00" y1="360.80" x2="480.00" y2="363.00" stroke="#9a9a9a" stroke-width="0.8"/>
<text transform="translate(480.00 368.90) scale(1 1.09)" font-size="5.8" text-anchor="middle" font-weight="normal" fill="#2a2a2a" class="k">5</text>
<line x1="515.00" y1="360.80" x2="515.00" y2="363.00" stroke="#9a9a9a" stroke-width="0.8"/>
<text transform="translate(515.00 364.90) scale(1 1.09)" font-size="5.8" text-anchor="middle" font-weight="normal" fill="#2a2a2a" class="k">6</text>
<text transform="translate(410.30 375.10) scale(1 1.09)" font-size="5.65" text-anchor="middle" font-weight="normal" fill="#2a2a2a">Years since diagnosis</text>
<text transform="translate(289.20 297.88) rotate(-90) scale(1 1.09)" font-size="5.8" text-anchor="middle" font-weight="normal" fill="#2a2a2a" class="k">Survival (%)</text>
<rect x="337.30" y="382.50" width="145.20" height="22.70" fill="none" stroke="#a8a8a8" stroke-width="0.8"/>
<polyline points="322.50,241.13 350.15,245.45 385.15,252.23 410.00,254.91 440.10,256.20 449.90,258.18 462.15,260.05 497.15,260.05 515.00,265.54" fill="none" stroke="#8e959e" stroke-width="1.0" stroke-linejoin="miter" />
<polyline points="322.50,240.20 350.15,241.72 385.15,245.45 410.00,248.26 449.90,249.54 480.00,250.59 499.95,251.53 515.00,254.44" fill="none" stroke="#939daa" stroke-width="1.0" stroke-dasharray="4,1.6" stroke-linejoin="miter" />
<polyline points="322.50,240.08 350.15,241.25 385.15,244.75 420.15,244.75 445.00,245.69 455.15,250.01 480.00,250.94 499.95,251.29 515.00,253.51" fill="none" stroke="#e6d2c4" stroke-width="0.9" stroke-dasharray="4,1.6" stroke-linejoin="miter" />
<polyline points="322.50,241.48 350.15,245.92 385.15,252.81 410.00,255.84 440.10,256.78 449.90,258.76 462.15,262.27 480.00,264.48 510.10,264.48 515.00,264.83" fill="none" stroke="#efdcc8" stroke-width="1.6" stroke-linejoin="miter" />
<line x1="340.20" y1="389.00" x2="367.10" y2="389.00" stroke="#939daa" stroke-width="1" stroke-dasharray="4,1.6"/>
<text transform="translate(370.00 391.10) scale(1 1.09)" font-size="5.8" text-anchor="start" font-weight="normal" fill="#2a2a2a">RS Males</text>
<line x1="340.20" y1="398.30" x2="367.10" y2="398.30" stroke="#97a3b3" stroke-width="1"/>
<text transform="translate(370.00 400.40) scale(1 1.09)" font-size="5.8" text-anchor="start" font-weight="normal" fill="#2a2a2a">OS Males</text>
<line x1="410.00" y1="389.00" x2="437.00" y2="389.00" stroke="#e6d2c4" stroke-width="1" stroke-dasharray="4,1.6"/>
<text transform="translate(439.80 391.10) scale(1 1.09)" font-size="5.8" text-anchor="start" font-weight="normal" fill="#2a2a2a">RS Females</text>
<line x1="410.00" y1="398.30" x2="437.00" y2="398.30" stroke="#f1dcc5" stroke-width="1"/>
<text transform="translate(439.80 400.40) scale(1 1.09)" font-size="5.8" text-anchor="start" font-weight="normal" fill="#2a2a2a">OS Females</text>
<rect x="301.25" y="448.20" width="217.15" height="126.00" fill="none" stroke="#9a9a9a" stroke-width="0.9"/>
<line x1="298.85" y1="570.00" x2="301.25" y2="570.00" stroke="#9a9a9a" stroke-width="0.8"/>
<text transform="translate(295.25 570.00) rotate(-90) scale(1 1.0)" font-size="5.5" text-anchor="middle" font-weight="normal" fill="#2a2a2a" class="k">0</text>
<line x1="298.85" y1="558.25" x2="301.25" y2="558.25" stroke="#9a9a9a" stroke-width="0.8"/>
<text transform="translate(295.25 558.25) rotate(-90) scale(1 1.0)" font-size="5.5" text-anchor="middle" font-weight="normal" fill="#2a2a2a" class="k">10</text>
<line x1="298.85" y1="546.50" x2="301.25" y2="546.50" stroke="#9a9a9a" stroke-width="0.8"/>
<text transform="translate(295.25 546.50) rotate(-90) scale(1 1.0)" font-size="5.5" text-anchor="middle" font-weight="normal" fill="#2a2a2a" class="k">20</text>
<line x1="298.85" y1="534.75" x2="301.25" y2="534.75" stroke="#9a9a9a" stroke-width="0.8"/>
<text transform="translate(295.25 534.75) rotate(-90) scale(1 1.0)" font-size="5.5" text-anchor="middle" font-weight="normal" fill="#2a2a2a" class="k">30</text>
<line x1="298.85" y1="523.00" x2="301.25" y2="523.00" stroke="#9a9a9a" stroke-width="0.8"/>
<text transform="translate(295.25 523.00) rotate(-90) scale(1 1.0)" font-size="5.5" text-anchor="middle" font-weight="normal" fill="#2a2a2a" class="k">40</text>
<line x1="298.85" y1="511.25" x2="301.25" y2="511.25" stroke="#9a9a9a" stroke-width="0.8"/>
<text transform="translate(295.25 511.25) rotate(-90) scale(1 1.0)" font-size="5.5" text-anchor="middle" font-weight="normal" fill="#2a2a2a" class="k">50</text>
<line x1="298.85" y1="499.50" x2="301.25" y2="499.50" stroke="#9a9a9a" stroke-width="0.8"/>
<text transform="translate(295.25 499.50) rotate(-90) scale(1 1.0)" font-size="5.5" text-anchor="middle" font-weight="normal" fill="#2a2a2a" class="k">60</text>
<line x1="298.85" y1="487.75" x2="301.25" y2="487.75" stroke="#9a9a9a" stroke-width="0.8"/>
<text transform="translate(295.25 487.75) rotate(-90) scale(1 1.0)" font-size="5.5" text-anchor="middle" font-weight="normal" fill="#2a2a2a" class="k">70</text>
<line x1="298.85" y1="476.00" x2="301.25" y2="476.00" stroke="#9a9a9a" stroke-width="0.8"/>
<text transform="translate(295.25 476.00) rotate(-90) scale(1 1.0)" font-size="5.5" text-anchor="middle" font-weight="normal" fill="#2a2a2a" class="k">80</text>
<line x1="298.85" y1="464.25" x2="301.25" y2="464.25" stroke="#9a9a9a" stroke-width="0.8"/>
<text transform="translate(295.25 464.25) rotate(-90) scale(1 1.0)" font-size="5.5" text-anchor="middle" font-weight="normal" fill="#2a2a2a" class="k">90</text>
<line x1="298.85" y1="452.50" x2="301.25" y2="452.50" stroke="#9a9a9a" stroke-width="0.8"/>
<text transform="translate(295.25 452.50) rotate(-90) scale(1 1.0)" font-size="5.5" text-anchor="middle" font-weight="normal" fill="#2a2a2a" class="k">100</text>
<line x1="305.00" y1="574.20" x2="305.00" y2="576.40" stroke="#9a9a9a" stroke-width="0.8"/>
<text transform="translate(305.00 582.30) scale(1 1.09)" font-size="5.8" text-anchor="middle" font-weight="normal" fill="#2a2a2a" class="k">0</text>
<line x1="340.05" y1="574.20" x2="340.05" y2="576.40" stroke="#9a9a9a" stroke-width="0.8"/>
<text transform="translate(340.05 582.30) scale(1 1.09)" font-size="5.8" text-anchor="middle" font-weight="normal" fill="#2a2a2a" class="k">1</text>
<line x1="375.10" y1="574.20" x2="375.10" y2="576.40" stroke="#9a9a9a" stroke-width="0.8"/>
<text transform="translate(375.10 582.30) scale(1 1.09)" font-size="5.8" text-anchor="middle" font-weight="normal" fill="#2a2a2a" class="k">2</text>
<line x1="410.15" y1="574.20" x2="410.15" y2="576.40" stroke="#9a9a9a" stroke-width="0.8"/>
<text transform="translate(410.15 582.30) scale(1 1.09)" font-size="5.8" text-anchor="middle" font-weight="normal" fill="#2a2a2a" class="k">3</text>
<line x1="445.20" y1="574.20" x2="445.20" y2="576.40" stroke="#9a9a9a" stroke-width="0.8"/>
<text transform="translate(445.20 582.30) scale(1 1.09)" font-size="5.8" text-anchor="middle" font-weight="normal" fill="#2a2a2a" class="k">4</text>
<line x1="480.25" y1="574.20" x2="480.25" y2="576.40" stroke="#9a9a9a" stroke-width="0.8"/>
<text transform="translate(480.25 582.30) scale(1 1.09)" font-size="5.8" text-anchor="middle" font-weight="normal" fill="#2a2a2a" class="k">5</text>
<line x1="515.30" y1="574.20" x2="515.30" y2="576.40" stroke="#9a9a9a" stroke-width="0.8"/>
<text transform="translate(515.30 582.30) scale(1 1.09)" font-size="5.8" text-anchor="middle" font-weight="normal" fill="#2a2a2a" class="k">6</text>
<text transform="translate(410.45 588.60) scale(1 1.09)" font-size="5.65" text-anchor="middle" font-weight="normal" fill="#2a2a2a">Years since diagnosis</text>
<text transform="translate(289.25 511.25) rotate(-90) scale(1 1.09)" font-size="5.8" text-anchor="middle" font-weight="normal" fill="#2a2a2a" class="k">Survival (%)</text>
<rect x="350.60" y="597.00" width="119.80" height="22.20" fill="none" stroke="#a8a8a8" stroke-width="0.8"/>
<polyline points="322.52,458.49 350.21,460.14 360.03,462.25 385.26,469.65 410.15,471.65 420.31,472.24 430.13,474.36 450.11,474.94 460.27,478.47 515.30,478.47" fill="none" stroke="#e6d2c4" stroke-width="1.0" stroke-dasharray="4,1.6" stroke-linejoin="miter" />
<polyline points="322.52,460.37 340.05,463.55 355.12,467.54 364.94,469.65 385.26,477.06 395.08,479.06 410.15,479.64 420.31,481.76 435.04,483.75 450.11,485.75 462.37,490.69 515.30,490.69" fill="none" stroke="#f2e0cc" stroke-width="1.9" stroke-linejoin="miter" />
<polyline points="322.52,452.50 340.05,453.20 357.57,454.14 375.10,455.67 392.62,460.37 410.15,464.25 445.20,464.49 470.09,467.66 480.25,468.83 497.42,468.83 515.30,473.41" fill="none" stroke="#97a3b3" stroke-width="1.4" stroke-linejoin="miter" />
<polyline points="322.52,452.50 385.26,454.26 399.99,455.44 410.15,456.96 450.11,456.96 470.09,457.32 480.25,458.73 497.42,458.73 515.30,461.55" fill="none" stroke="#939daa" stroke-width="1.1" stroke-dasharray="4,1.6" stroke-linejoin="miter" />
<line x1="353.50" y1="603.50" x2="378.50" y2="603.50" stroke="#939daa" stroke-width="1" stroke-dasharray="4,1.6"/>
<text transform="translate(382.70 605.60) scale(1 1.09)" font-size="5.8" text-anchor="start" font-weight="normal" fill="#2a2a2a">RS 1–3</text>
<line x1="353.50" y1="612.80" x2="378.50" y2="612.80" stroke="#97a3b3" stroke-width="1"/>
<text transform="translate(382.70 614.90) scale(1 1.09)" font-size="5.8" text-anchor="start" font-weight="normal" fill="#2a2a2a">OS 1–3</text>
<line x1="416.00" y1="603.50" x2="440.00" y2="603.50" stroke="#e6d2c4" stroke-width="1" stroke-dasharray="4,1.6"/>
<text transform="translate(444.60 605.60) scale(1 1.09)" font-size="5.8" text-anchor="start" font-weight="normal" fill="#2a2a2a">RS 4–5</text>
<line x1="416.00" y1="612.80" x2="440.00" y2="612.80" stroke="#f1dcc5" stroke-width="1"/>
<text transform="translate(444.60 614.90) scale(1 1.09)" font-size="5.8" text-anchor="start" font-weight="normal" fill="#2a2a2a">OS 4–5</text>
<text transform="translate(19.00 7.90) scale(0.82 1)" font-size="9" fill="#222" class="t">A</text>
<text transform="translate(301.00 8.00) scale(0.82 1)" font-size="9" fill="#222" class="t">B</text>
<text transform="translate(18.70 228.80) scale(0.82 1)" font-size="9" fill="#222" class="t">C</text>
<text transform="translate(299.30 229.30) scale(0.82 1)" font-size="9" fill="#222" class="t">D</text>
<text transform="translate(19.20 442.90) scale(0.82 1)" font-size="9" fill="#222" class="t">E</text>
<text transform="translate(300.90 442.70) scale(0.82 1)" font-size="9" fill="#222" class="t">F</text>
</g>
</svg>
</body></html>
